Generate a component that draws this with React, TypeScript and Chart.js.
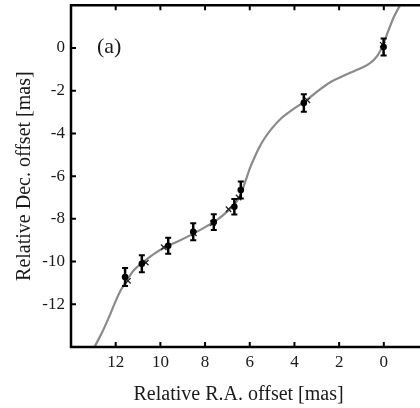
import React, { useEffect, useRef } from "react";
import { Chart, registerables } from "chart.js";

Chart.register(...registerables);

// ---- data (mas) ----
const curveRA = [12.95, 12.6, 12.3, 12.0, 11.75, 11.5, 11.2, 10.8, 10.3, 9.8, 9.2, 8.5, 7.9, 7.4, 7.0, 6.7, 6.45, 6.3, 6.15, 6.0, 5.8, 5.6, 5.35, 5.0, 4.6, 4.1, 3.5, 3.0, 2.4, 1.8, 1.2, 0.63, 0.3, 0.05, -0.2, -0.45, -0.75];
const curveDec = [-14.0, -13.3, -12.6, -11.85, -11.3, -10.88, -10.42, -10.05, -9.65, -9.33, -9.05, -8.68, -8.33, -8.0, -7.65, -7.35, -6.95, -6.55, -6.1, -5.65, -5.15, -4.7, -4.25, -3.75, -3.3, -2.9, -2.47, -2.05, -1.6, -1.3, -1.02, -0.72, -0.38, 0.1, 0.8, 1.45, 2.05];

const obsRA = [11.58, 10.83, 9.65, 8.53, 7.61, 6.69, 6.4, 3.58, 0.01];
const obsDec = [-10.72, -10.1, -9.26, -8.6, -8.15, -7.43, -6.65, -2.57, 0.05];
const obsErr = [0.42, 0.4, 0.37, 0.4, 0.37, 0.36, 0.4, 0.41, 0.4];

const modelRA = [11.45, 10.65, 9.85, 8.5, 7.65, 6.95, 6.5, 3.42, 0.05];
const modelDec = [-10.9, -10.05, -9.33, -8.68, -8.2, -7.55, -7.0, -2.45, 0.15];

const xTicks = [12, 10, 8, 6, 4, 2, 0];
const yTicks = [0, -2, -4, -6, -8, -10, -12];

const panelLabel = "(a)";
const xTitle = "Relative R.A. offset [mas]";
const yTitle = "Relative Dec. offset [mas]";

const FONT = "'Liberation Serif', 'Times New Roman', Times, serif";
const TEXT = "#1a1a1a";

const framePlugin = {
  id: "frameAndErrors",
  afterDatasetsDraw(chart: any) {
    const ctx = chart.ctx;
    const xs = chart.scales.x;
    const ys = chart.scales.y;
    ctx.save();
    ctx.strokeStyle = "#000";
    for (let i = 0; i < obsRA.length; i++) {
      const px = xs.getPixelForValue(obsRA[i]);
      const p1 = ys.getPixelForValue(obsDec[i] + obsErr[i]);
      const p2 = ys.getPixelForValue(obsDec[i] - obsErr[i]);
      ctx.lineWidth = 2.5;
      ctx.beginPath();
      ctx.moveTo(px, p1);
      ctx.lineTo(px, p2);
      ctx.stroke();
      ctx.lineWidth = 2;
      ctx.beginPath();
      ctx.moveTo(px - 3, p1);
      ctx.lineTo(px + 3, p1);
      ctx.moveTo(px - 3, p2);
      ctx.lineTo(px + 3, p2);
      ctx.stroke();
    }
    ctx.restore();
  },
  afterDraw(chart: any) {
    const ctx = chart.ctx;
    const { left, right, top, bottom } = chart.chartArea;
    const xs = chart.scales.x;
    const ys = chart.scales.y;
    ctx.save();
    ctx.strokeStyle = "#000";
    ctx.lineWidth = 2.5;
    ctx.lineCap = "square";
    ctx.beginPath();
    ctx.moveTo(right + 5, top);
    ctx.lineTo(left, top);
    ctx.lineTo(left, bottom);
    ctx.lineTo(right + 5, bottom);
    ctx.stroke();
    ctx.lineWidth = 2;
    ctx.lineCap = "butt";
    ctx.beginPath();
    for (const v of xTicks) {
      const px = xs.getPixelForValue(v);
      ctx.moveTo(px, bottom);
      ctx.lineTo(px, bottom - 5);
      ctx.moveTo(px, top);
      ctx.lineTo(px, top + 5);
    }
    for (const v of yTicks) {
      const py = ys.getPixelForValue(v);
      ctx.moveTo(left, py);
      ctx.lineTo(left + 5, py);
    }
    ctx.stroke();

    ctx.fillStyle = TEXT;
    ctx.font = `22px ${FONT}`;
    ctx.textAlign = "left";
    ctx.textBaseline = "middle";
    ctx.fillText(panelLabel, left + 26, ys.getPixelForValue(0) - 1);

    ctx.font = `20px ${FONT}`;
    ctx.textAlign = "center";
    ctx.fillText(xTitle, xs.getPixelForValue(6.5), 395);
    ctx.restore();
  },
};

export default function App() {
  const ref = useRef<HTMLCanvasElement | null>(null);
  useEffect(() => {
    document.body.style.margin = "0";
    const canvas = ref.current!;
    const chart = new Chart(canvas, {
      type: "scatter",
      data: {
        datasets: [
          {
            label: "obs",
            data: obsRA.map((x, i) => ({ x, y: obsDec[i] })),
            backgroundColor: "#000",
            borderColor: "#000",
            pointStyle: "circle",
            pointRadius: 3.3,
            pointBorderWidth: 0,
            order: 0,
          },
          {
            label: "model",
            data: modelRA.map((x, i) => ({ x, y: modelDec[i] })),
            borderColor: "#222",
            backgroundColor: "#222",
            pointStyle: "crossRot",
            pointRadius: 3.8,
            pointBorderWidth: 1.3,
            order: 1,
          },
          {
            label: "fit",
            data: curveRA.map((x, i) => ({ x, y: curveDec[i] })),
            showLine: true,
            borderColor: "#8a8a8a",
            borderWidth: 2.2,
            pointRadius: 0,
            cubicInterpolationMode: "monotone",
            order: 2,
          } as any,
        ],
      },
      options: {
        animation: false,
        responsive: false,
        devicePixelRatio: 1,
        layout: { padding: { top: 5, right: 11.5, left: 0, bottom: 0 } },
        plugins: { legend: { display: false }, tooltip: { enabled: false } },
        scales: {
          x: {
            type: "linear",
            reverse: true,
            min: -2,
            max: 14,
            grid: { display: false, drawTicks: false },
            border: { display: false },
            afterBuildTicks: (s: any) => {
              s.ticks = xTicks.map((v) => ({ value: v }));
            },
            afterFit: (s: any) => {
              s.height = 61;
              s.paddingLeft = 0;
              s.paddingRight = 0;
              s.paddingTop = 0;
              s.paddingBottom = 0;
            },
            ticks: {
              padding: 5,
              color: TEXT,
              font: { family: FONT, size: 17 },
              callback: (v: any) => String(v),
              maxRotation: 0,
            },
          },
          y: {
            type: "linear",
            min: -14,
            max: 2,
            grid: { display: false, drawTicks: false },
            border: { display: false },
            afterBuildTicks: (s: any) => {
              s.ticks = yTicks.map((v) => ({ value: v }));
            },
            afterFit: (s: any) => {
              s.width = 71;
              s.paddingLeft = 0;
              s.paddingRight = 0;
              s.paddingTop = 0;
              s.paddingBottom = 0;
            },
            ticks: {
              padding: 6,
              color: TEXT,
              font: { family: FONT, size: 17 },
              callback: (v: any) => String(v),
            },
            title: {
              display: true,
              text: yTitle,
              color: TEXT,
              font: { family: FONT, size: 20 },
              padding: { top: 13, bottom: 0 },
            },
          },
        },
      },
      plugins: [framePlugin],
    });
    return () => chart.destroy();
  }, []);
  return (
    <div style={{ width: 420, height: 408, overflow: "hidden", position: "relative" }}>
      <canvas ref={ref} width={440} height={408} style={{ width: 440, height: 408, display: "block" }} />
    </div>
  );
}
